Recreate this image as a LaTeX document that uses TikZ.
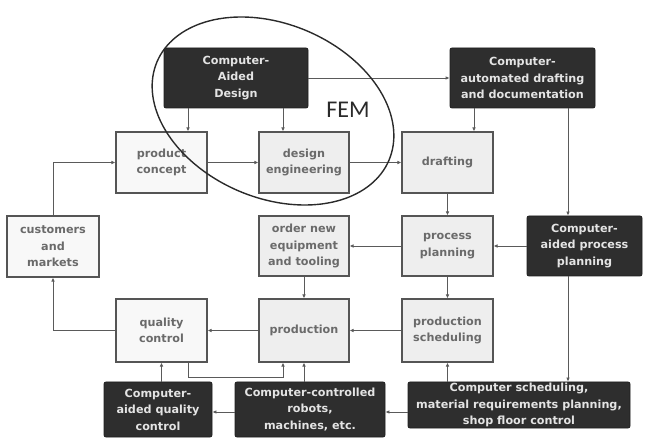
\documentclass[tikz,border=0pt]{standalone}
\usepackage{fontspec}
\setmainfont{DejaVu Sans}
\newfontfamily\femfont{Carlito}
\usetikzlibrary{arrows.meta,shadows}
\definecolor{dfill}{HTML}{2E2E2E}
\definecolor{ddraw}{HTML}{1E1E1E}
\definecolor{dtext}{HTML}{E4E4E4}
\definecolor{lfill}{HTML}{F8F8F8}
\definecolor{gfill}{HTML}{EEEEEE}
\definecolor{ldraw}{HTML}{555555}
\definecolor{ltext}{HTML}{6A6A6A}
\definecolor{wire}{HTML}{5A5A5A}
\definecolor{ring}{HTML}{2A2A2A}
\begin{document}
\begin{tikzpicture}[x=1pt,y=-1pt,
  boxbase/.style={inner sep=0pt, align=center, font=\fontsize{11.2}{16.5}\selectfont\bfseries},
  lbox/.style={boxbase, draw=ldraw, line width=1.1pt, fill=lfill, text=ltext,
    drop shadow={shadow xshift=1.2pt, shadow yshift=-1.4pt, opacity=0.45, fill=black}},
  gbox/.style={lbox, fill=gfill},
  dbox/.style={boxbase, draw=ddraw, line width=0.8pt, fill=dfill, text=dtext, rounded corners=2pt},
  arr/.style={draw=wire, line width=0.9pt, -{Latex[length=4pt,width=3.6pt]}},
  ringline/.style={draw=ring, line width=1.4pt}
]
\useasboundingbox (0,0) rectangle (651,438);

% dark boxes
\node[dbox, minimum width=144pt, minimum height=60pt] (CAD) at (236,78) {Computer-\\Aided\\Design};
\node[dbox, minimum width=145pt, minimum height=60pt] (CAM) at (522.5,78) {Computer-\\automated drafting\\and documentation};
\node[dbox, minimum width=115pt, minimum height=60pt] (CAPP) at (584.5,246) {Computer-\\aided process\\planning};
\node[dbox, minimum width=108pt, minimum height=55pt] (CAQC) at (158,409.5) {Computer-\\aided quality\\control};
\node[dbox, minimum width=150pt, minimum height=55pt] (CCR) at (310,409.5) {Computer-controlled\\robots,\\machines, etc.};
\node[dbox, minimum width=222pt, minimum height=46pt] (CS) at (519,405) {Computer scheduling,\\material requirements planning,\\shop floor control};

% light boxes
\node[lbox, minimum width=91pt, minimum height=61pt] (PC) at (161.5,162.5) {product\\concept};
\node[gbox, minimum width=90pt, minimum height=61pt] (DE) at (304,162.5) {design\\engineering};
\node[gbox, minimum width=91pt, minimum height=61pt] (DR) at (447.5,162.5) {drafting};
\node[lbox, minimum width=92pt, minimum height=61pt] (CM) at (53,246.5) {customers\\and\\markets};
\node[gbox, minimum width=90pt, minimum height=60pt] (ON) at (304,246) {order new\\equipment\\and tooling};
\node[gbox, minimum width=91pt, minimum height=60pt] (PP) at (447.5,246) {process\\planning};
\node[lbox, minimum width=91pt, minimum height=63pt] (QC) at (161.5,330.5) {quality\\control};
\node[gbox, minimum width=90pt, minimum height=63pt] (PR) at (304,330.5) {production};
\node[gbox, minimum width=91pt, minimum height=63pt] (PS) at (447.5,330.5) {production\\scheduling};

% helper coordinates for vertical / horizontal runs
\coordinate (v188) at (188,0);
\coordinate (v283) at (283,0);
\coordinate (v474) at (474,0);
\coordinate (v568) at (568,0);
\coordinate (h412) at (0,412);

% connectors
\draw[arr] (CAD.south -| v188) -- (PC.north -| v188);
\draw[arr] (CAD.south -| v283) -- (DE.north -| v283);
\draw[arr] (CAD.east) -- (CAM.west);
\draw[arr] (PC.east) -- (DE.west);
\draw[arr] (DE.east) -- (DR.west);
\draw[arr] (CM.north) |- (PC.west);
\draw[arr] (CAM.south -| v474) -- (DR.north -| v474);
\draw[arr] (CAM.south -| v568) -- (CAPP.north -| v568);
\draw[arr] (DR.south) -- (PP.north);
\draw[arr] (CAPP.west) -- (PP.east);
\draw[arr] (PP.west) -- (ON.east);
\draw[arr] (ON.south) -- (PR.north);
\draw[arr] (PP.south) -- (PS.north);
\draw[arr] (PS.west) -- (PR.east);
\draw[arr] (PR.west) -- (QC.east);
\draw[arr] (QC.west) -| (CM.south);
\coordinate (q1) at (QC.south -| v188);
\coordinate (q2) at (PR.south -| v283);
\draw[arr] (q1) -- ++(0,15) -| (q2);
\draw[arr] (CAQC.north -| QC.south) -- (QC.south);
\draw[arr] (CCR.north -| PR.south) -- (PR.south);
\draw[arr] (CS.north -| PS.south) -- (PS.south);
\draw[arr] (CAPP.south -| v568) -- (CS.north -| v568);
\draw[arr] (CS.west |- h412) -- (CCR.east |- h412);
\draw[arr] (CCR.west |- h412) -- (CAQC.east |- h412);

% FEM ellipse
\draw[ringline] plot[smooth cycle, samples=72, domain=0:355, variable=\t]
  ({273 + 126*cos(23)*cos(\t) - 87*sin(23)*sin(\t)}, {111 + 126*sin(23)*cos(\t) + 87*cos(23)*sin(\t)});
\node[font=\femfont\fontsize{24}{24}\selectfont, text=ring, inner sep=0pt] (FEM) at (348,110) {FEM};
\end{tikzpicture}
\end{document}
